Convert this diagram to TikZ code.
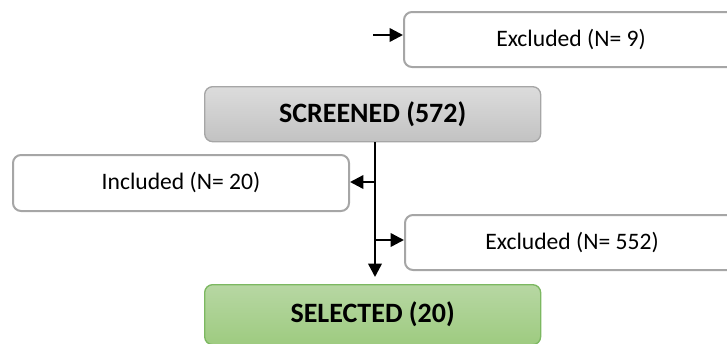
\documentclass[tikz,border=0pt]{standalone}
\usepackage{fontspec}
\setmainfont{Carlito}
\usetikzlibrary{arrows.meta}
\definecolor{boxgray}{HTML}{A6A6A6}
\definecolor{greenline}{HTML}{7CB861}
\definecolor{greentop}{HTML}{B7D7A3}
\definecolor{greenbot}{HTML}{9ECB80}
\definecolor{graytop}{HTML}{DCDCDC}
\definecolor{graybot}{HTML}{C2C2C2}
\tikzset{
  px/.style={x=0.75pt,y=-0.75pt},
  whitebox/.style={draw=boxgray, line width=1.5pt, rounded corners=6pt, fill=white, inner sep=0pt, font=\fontsize{17.7}{20}\selectfont},
  graybox/.style={draw=boxgray, line width=1pt, rounded corners=6pt, top color=graytop, bottom color=graybot, inner sep=0pt, font=\fontsize{21}{24}\selectfont\bfseries},
  greenbox/.style={draw=greenline, line width=1pt, rounded corners=6pt, top color=greentop, bottom color=greenbot, inner sep=0pt, font=\fontsize{21}{24}\selectfont\bfseries},
  conn/.style={line width=1.8pt, -{Triangle[length=10pt,width=10pt]}},
  plain/.style={line width=1.8pt},
}
\begin{document}
\begin{tikzpicture}[px]
\useasboundingbox (0,0) rectangle (727,343);
\clip (0,0) rectangle (727,343);
\node[whitebox, anchor=north west, minimum width=250.5pt, minimum height=41.25pt] (ex9) at (403,11) {Excluded (N= 9)};
\node[graybox, anchor=north west, minimum width=252pt, minimum height=41.25pt] (scr) at (204,86) {SCREENED (572)};
\node[whitebox, anchor=north west, minimum width=252pt, minimum height=42pt] (inc) at (12,154) {Included (N= 20)};
\node[whitebox, anchor=north west, minimum width=250.5pt, minimum height=41.25pt] (ex552) at (404,214) {Excluded (N= 552)};
\node[greenbox, anchor=north west, minimum width=252pt, minimum height=45pt] (sel) at (204,284) {SELECTED (20)};
\coordinate (t0) at (373,35);
\draw[conn] (t0) -- (ex9.west |- t0);
\coordinate (b1) at (375,182);
\coordinate (b2) at (375,240);
\draw[plain] (scr.south -| b1) -- (b2);
\draw[conn] (b1) -- (inc.east |- b1);
\draw[conn] (b2) -- (ex552.west |- b2);
\draw[conn, shorten >=5.25pt] (b2) -- (sel.north -| b2);
\end{tikzpicture}
\end{document}
